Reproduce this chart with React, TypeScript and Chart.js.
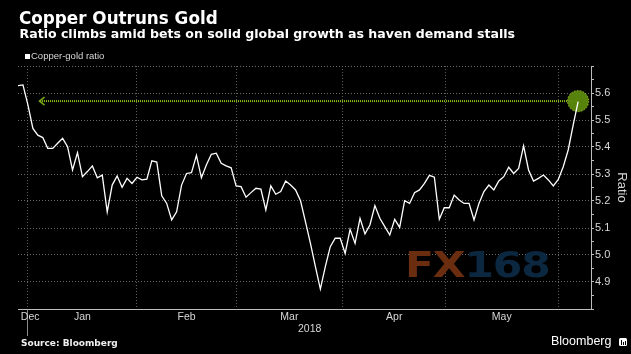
import React, { useEffect, useRef } from 'react';
import { Chart, registerables } from 'chart.js';

Chart.register(...registerables);

// Copper-gold ratio, one value per trading day (late Dec 2017 → early Jun 2018)
const ratioValues = [
  5.627, 5.63, 5.556, 5.469, 5.444, 5.435, 5.395, 5.395, 5.414, 5.432,
  5.401, 5.315, 5.379, 5.29, 5.309, 5.33, 5.286, 5.296, 5.16, 5.259,
  5.293, 5.251, 5.284, 5.265, 5.288, 5.278, 5.281, 5.349, 5.344, 5.219,
  5.191, 5.13, 5.16, 5.259, 5.302, 5.305, 5.369, 5.286, 5.333, 5.373,
  5.377, 5.34, 5.33, 5.323, 5.256, 5.253, 5.214, 5.231, 5.247, 5.244,
  5.167, 5.256, 5.225, 5.235, 5.274, 5.259, 5.241, 5.201, 5.123, 5.043,
  4.957, 4.874, 4.957, 5.031, 5.062, 5.062, 5.006, 5.095, 5.043, 5.136,
  5.078, 5.111, 5.183, 5.136, 5.105, 5.074, 5.132, 5.102, 5.201, 5.191,
  5.231, 5.241, 5.265, 5.295, 5.288, 5.132, 5.175, 5.175, 5.222, 5.204,
  5.191, 5.191, 5.13, 5.191, 5.235, 5.259, 5.241, 5.274, 5.29, 5.325,
  5.302, 5.321, 5.404, 5.315, 5.274, 5.284, 5.296, 5.278, 5.256, 5.28,
  5.327, 5.389, 5.481, 5.568,
];

// x axis (trading-day index units)
const xMin = 0;
const xMax = 115.6;
const monthBoundaries = [2, 24, 44, 65.5, 86.25, 109];
const monthLabels = ['Dec', 'Jan', 'Feb', 'Mar', 'Apr', 'May'];
const monthLabelPositions = [2.45, 13, 34, 54.75, 75.9, 97.6];
const yearLabel = '2018';
const yearLabelPosition = 58.85;

// y axis
const yMin = 4.8;
const yMax = 5.7;
const yTickValues = [
  4.8, 4.85, 4.9, 4.95, 5.0, 5.05, 5.1, 5.15, 5.2, 5.25,
  5.3, 5.35, 5.4, 5.45, 5.5, 5.55, 5.6, 5.65, 5.7,
];
const yLabeledTicks = [4.9, 5.0, 5.1, 5.2, 5.3, 5.4, 5.5, 5.6];
const yGridTicks = [4.9, 5.0, 5.1, 5.2, 5.3, 5.4, 5.5, 5.6, 5.7];

// annotation arrow
const arrowLevel = 5.57;
const arrowStart = 4.85;

const seriesName = 'Copper-gold ratio';
const yTitle = 'Ratio';

const WHITE = '#ffffff';
const LABEL = '#d8d8d8';
const AXIS = '#bdbdbd';
const HGRID = '#6a6a6a';
const VGRID = '#5e5e5e';
const SEP = '#8a8a8a';
const GREEN = '#8fc41c';
const CLEAR = 'rgba(0,0,0,0)';

const near = (a: number, b: number) => Math.abs(a - b) < 1e-6;

function makeChevron(): HTMLCanvasElement {
  const c = document.createElement('canvas');
  c.width = 8;
  c.height = 10;
  const g = c.getContext('2d')!;
  g.strokeStyle = GREEN;
  g.lineWidth = 1.5;
  g.beginPath();
  g.moveTo(6.5, 1);
  g.lineTo(1.5, 5);
  g.lineTo(6.5, 9);
  g.stroke();
  return c;
}

function makeCircle(): HTMLCanvasElement {
  const c = document.createElement('canvas');
  c.width = 24;
  c.height = 24;
  const g = c.getContext('2d')!;
  g.beginPath();
  g.arc(12, 12, 10.5, 0, Math.PI * 2);
  g.fillStyle = 'rgba(92,138,14,0.95)';
  g.fill();
  g.setLineDash([1.5, 1.5]);
  g.lineWidth = 1;
  g.strokeStyle = '#b5dc2a';
  g.stroke();
  return c;
}

type XT = { value: number; kind: 'grid' | 'label' | 'year'; text?: string };

export default function App() {
  const ref = useRef<HTMLCanvasElement>(null);

  useEffect(() => {
    const canvas = ref.current;
    if (!canvas) return;
    const chevron = makeChevron();
    const circle = makeCircle();

    const xTicks: XT[] = [
      ...monthBoundaries.map((v) => ({ value: v, kind: 'grid' as const })),
      ...monthLabelPositions.map((v, i) => ({ value: v, kind: 'label' as const, text: monthLabels[i] })),
      { value: yearLabelPosition, kind: 'year' as const, text: yearLabel },
    ].sort((a, b) => a.value - b.value);
    const findX = (v: number) => xTicks.find((t) => near(t.value, v));

    const chart = new Chart(canvas, {
      type: 'line',
      data: {
        datasets: [
          {
            label: seriesName,
            data: ratioValues.map((y, i) => ({ x: i, y })),
            borderColor: WHITE,
            borderWidth: 1.3,
            pointRadius: 0,
            tension: 0,
            fill: false,
          },
          {
            label: 'arrow',
            data: [
              { x: arrowStart, y: arrowLevel },
              { x: ratioValues.length - 1, y: arrowLevel },
            ],
            borderColor: GREEN,
            borderWidth: 2,
            borderDash: [1, 1],
            pointStyle: [chevron, circle] as any,
            pointRadius: [4, 11],
            fill: false,
          },
        ],
      },
      options: {
        responsive: false,
        animation: false,
        events: [],
        layout: { autoPadding: false, padding: { left: 18, top: 66, right: 0, bottom: 15 } },
        plugins: {
          legend: { display: false },
          tooltip: { enabled: false },
          title: { display: false },
        },
        scales: {
          x: {
            type: 'linear',
            position: 'bottom',
            min: xMin,
            max: xMax,
            afterBuildTicks: (s: any) => {
              s.ticks = xTicks.map((t) => ({ value: t.value }));
            },
            afterFit: (s: any) => {
              s.height = 30;
            },
            grid: {
              color: (c: any) => {
                const t = c.tick && findX(c.tick.value);
                return t && t.kind === 'grid' ? VGRID : CLEAR;
              },
              lineWidth: 1,
              drawTicks: true,
              tickLength: 27,
              tickWidth: 1,
              tickColor: (c: any) =>
                c.tick && near(c.tick.value, monthBoundaries[0]) ? SEP : CLEAR,
            },
            border: { display: true, color: AXIS, width: 1, dash: [1, 2] },
            ticks: {
              autoSkip: false,
              maxRotation: 0,
              minRotation: 0,
              padding: -25.5,
              color: LABEL,
              font: { family: 'Liberation Sans', size: 10.5 },
              callback: (v: any) => {
                const t = findX(Number(v));
                if (!t || t.kind === 'grid') return '';
                if (t.kind === 'year') return ['', t.text as string];
                return t.text as string;
              },
            },
          },
          y: {
            type: 'linear',
            position: 'right',
            min: yMin,
            max: yMax,
            afterBuildTicks: (s: any) => {
              s.ticks = yTickValues.map((v) => ({ value: v }));
            },
            afterFit: (s: any) => {
              s.width = 40;
            },
            grid: {
              color: (c: any) =>
                c.tick && yGridTicks.some((g) => near(g, c.tick.value)) ? HGRID : CLEAR,
              lineWidth: 1,
              drawTicks: true,
              tickLength: 3,
              tickWidth: 1,
              tickColor: AXIS,
            },
            border: { display: true, color: AXIS, width: 1, dash: [1, 2] },
            ticks: {
              autoSkip: false,
              padding: 1,
              color: LABEL,
              font: { family: 'Liberation Sans', size: 11 },
              callback: (v: any) => {
                const n = Number(v);
                return yLabeledTicks.some((l) => near(l, n)) ? n.toFixed(1) : '';
              },
            },
            title: {
              display: true,
              text: yTitle,
              color: LABEL,
              font: { family: 'Liberation Sans', size: 13 },
              padding: { top: 1.5, bottom: 0 },
            },
          },
        },
      },
    } as any);

    return () => chart.destroy();
  }, []);

  const abs = (o: React.CSSProperties): React.CSSProperties => ({
    position: 'absolute',
    whiteSpace: 'nowrap',
    lineHeight: 1,
    margin: 0,
    ...o,
  });

  return (
    <div
      style={{
        position: 'absolute',
        left: 0,
        top: 0,
        width: 631,
        height: 354,
        background: '#000',
        overflow: 'hidden',
      }}
    >
      <canvas
        ref={ref}
        width={631}
        height={354}
        style={{ position: 'absolute', left: 0, top: 0, width: 631, height: 354 }}
      />
      <div
        style={abs({
          left: 19,
          top: 9.8,
          fontFamily: 'DejaVu Sans',
          fontWeight: 'bold',
          fontSize: 16.8,
          color: WHITE,
        })}
      >
        Copper Outruns Gold
      </div>
      <div
        style={abs({
          left: 19.5,
          top: 28.4,
          fontFamily: 'DejaVu Sans',
          fontWeight: 'bold',
          fontSize: 12.55,
          color: WHITE,
        })}
      >
        Ratio climbs amid bets on solid global growth as haven demand stalls
      </div>
      <div style={abs({ left: 25, top: 54, width: 4.5, height: 4.5, background: WHITE })} />
      <div
        style={abs({
          left: 31,
          top: 51,
          fontFamily: 'Liberation Sans',
          fontSize: 9.5,
          color: LABEL,
        })}
      >
        {seriesName}
      </div>
      <div
        style={abs({
          left: 405,
          top: 246.5,
          fontFamily: 'DejaVu Sans',
          fontWeight: 'bold',
          fontSize: 36,
          transform: 'scaleX(1.18)',
          transformOrigin: 'left top',
          letterSpacing: -1,
        })}
      >
        <span style={{ color: '#6b2d10' }}>FX</span>
        <span style={{ color: '#0c2740' }}>168</span>
      </div>
      <div
        style={abs({
          left: 21,
          top: 339,
          fontFamily: 'DejaVu Sans',
          fontWeight: 'bold',
          fontSize: 9,
          color: '#f0f0f0',
        })}
      >
        Source: Bloomberg
      </div>
      <div
        style={abs({
          left: 551,
          top: 335.4,
          fontFamily: 'Liberation Sans',
          fontSize: 12.5,
          color: WHITE,
        })}
      >
        Bloomberg
      </div>
      <div
        style={abs({
          left: 619,
          top: 338,
          width: 8,
          height: 8,
          background: WHITE,
          borderRadius: 1.5,
        })}
      >
        <div style={abs({ left: 1.5, top: 2, width: 1, height: 5, background: '#000' })} />
        <div style={abs({ left: 3.5, top: 3.5, width: 1, height: 3.5, background: '#000' })} />
        <div style={abs({ left: 5.5, top: 2.5, width: 1, height: 4.5, background: '#000' })} />
      </div>
    </div>
  );
}
